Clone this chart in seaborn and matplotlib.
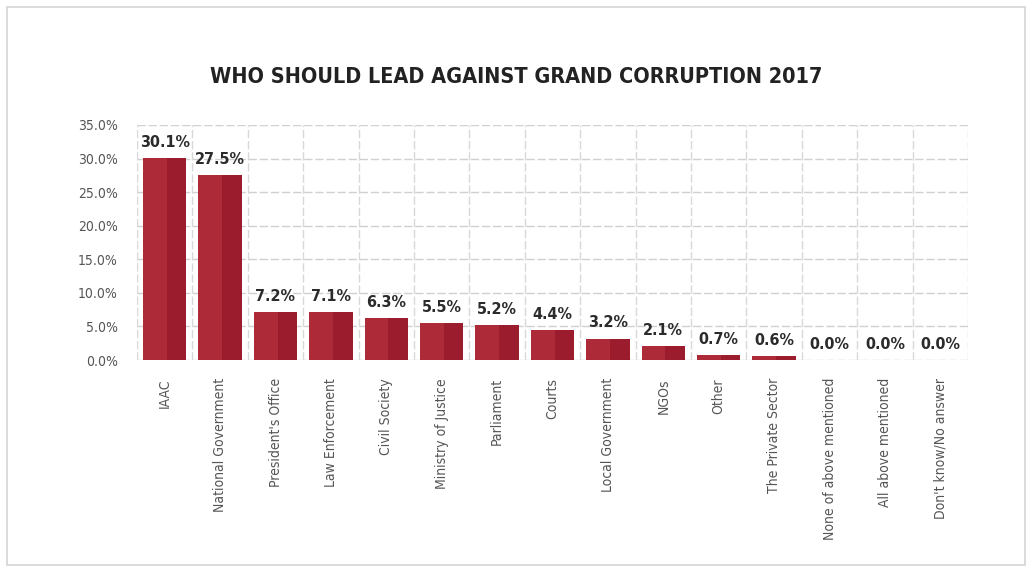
import matplotlib
matplotlib.use("Agg")
import matplotlib.pyplot as plt
import seaborn as sns
import pandas as pd
from matplotlib.patches import Rectangle

categories = ["IAAC", "National Government", "President's Office", "Law Enforcement",
              "Civil Society", "Ministry of Justice", "Parliament", "Courts",
              "Local Government", "NGOs", "Other", "The Private Sector",
              "None of above mentioned", "All above mentioned", "Don't know/No answer"]
values = [30.1, 27.5, 7.2, 7.1, 6.3, 5.5, 5.2, 4.4, 3.2, 2.1, 0.7, 0.6, 0.0, 0.0, 0.0]
y_ticks = [0, 5, 10, 15, 20, 25, 30, 35]

sns.set_theme(style="white")
plt.rcParams["font.family"] = ["DejaVu Sans"]
plt.rcParams["font.stretch"] = "condensed"

df = pd.DataFrame({"category": categories, "value": values})

fig = plt.figure(figsize=(10.32, 5.72), dpi=100)
fig.patches.append(Rectangle((7 / 1032, 7 / 572), 1018 / 1032, 558 / 572,
                             transform=fig.transFigure, fill=False,
                             edgecolor="#d4d4d4", linewidth=1.2))
ax = fig.add_axes([137 / 1032, 1 - 360 / 572, 831 / 1032, 235 / 572])

sns.barplot(data=df, x="category", y="value", color="#ad2a39", width=0.78,
            saturation=1, linewidth=0, ax=ax, zorder=3)

# darker right side to mimic the shaded bars of the original
for p in list(ax.patches):
    x0, w, h = p.get_x(), p.get_width(), p.get_height()
    ax.add_patch(Rectangle((x0 + w * 0.55, 0), w * 0.45, h, linewidth=0,
                           facecolor="#9b1d2d", edgecolor="none", zorder=3.5))

for i, v in enumerate(values):
    ax.text(i, v + 1.2, f"{v:.1f}%", ha="center", va="bottom",
            fontsize=11.5, fontweight="bold", color="#2b2b2b", zorder=5)

ax.set_ylim(0, 35)
ax.set_xlim(-0.5, len(categories) - 0.5)
ax.set_yticks(y_ticks)
ax.set_yticklabels([f"{t:.1f}%" for t in y_ticks], fontsize=10, color="#555555")
ax.set_xticks(range(len(categories)))
ax.set_xticklabels(categories, rotation=90, fontsize=10, color="#555555")
ax.tick_params(axis="y", length=0, pad=14)
ax.tick_params(axis="x", length=0, pad=13)
ax.set_xlabel("")
ax.set_ylabel("")

for t in y_ticks:
    ax.axhline(t, color="#d0d0d0", lw=1, ls=(0, (6, 2)), zorder=1)
for k in range(len(categories) + 1):
    ax.axvline(k - 0.5, color="#d8d8d8", lw=1, ls=(0, (6, 2)), zorder=1)
for s in ax.spines.values():
    s.set_visible(False)

fig.text(0.5, 1 - 77 / 572, "WHO SHOULD LEAD AGAINST GRAND CORRUPTION 2017",
         ha="center", va="center", fontsize=15.5, fontweight="bold", color="#222222")

fig.savefig("out.png", dpi=100)
